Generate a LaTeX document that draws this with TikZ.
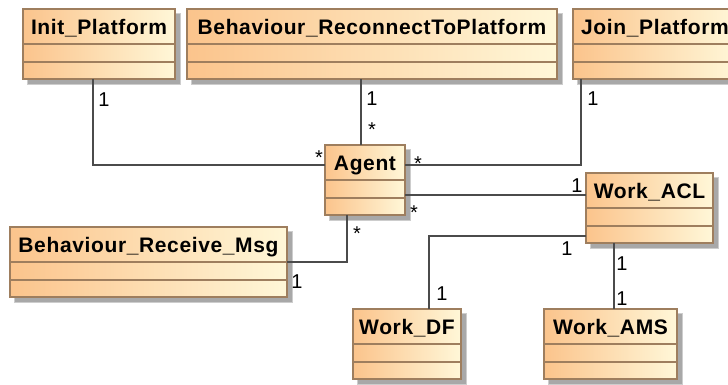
\documentclass[tikz,border=0pt]{standalone}
\usepackage{fontspec}
\setmainfont{Liberation Sans}
\newfontfamily\titlefont{Liberation Sans}[LetterSpace=3]
\usetikzlibrary{calc}
\definecolor{clsL}{RGB}{251,196,140}
\definecolor{clsR}{RGB}{255,247,216}
\definecolor{clsB}{RGB}{158,126,94}
\definecolor{shd}{RGB}{168,168,168}
\definecolor{shdl}{RGB}{205,205,205}
\definecolor{lnc}{RGB}{75,75,75}
\tikzset{
  cls/.style={draw=clsB, line width=1.1pt, left color=clsL, right color=clsR,
    inner sep=0pt, outer sep=0pt, minimum height=52.5pt},
  sepline/.style={draw=clsB, line width=1.1pt},
  titletext/.style={font=\titlefont\bfseries\fontsize{15.75pt}{17pt}\selectfont, inner sep=0pt},
  conn/.style={draw=lnc, line width=1.1pt},
  lbl/.style={font=\fontsize{15pt}{16pt}\selectfont, inner sep=0pt, text=black},
}
\newcommand\umlclass[5]{%
  \fill[shdl] (#2+4,#3+4) rectangle ++(#4+2,72);
  \fill[shd] (#2+5,#3+5) rectangle ++(#4,70);
  \node[cls, minimum width=#4*0.75pt, anchor=north west] (#1) at (#2,#3) {};
  \draw[sepline] ($(#1.north west)+(0,35)$) -- ($(#1.north east)+(0,35)$);
  \draw[sepline] ($(#1.north west)+(0,53)$) -- ($(#1.north east)+(0,53)$);
  \node[titletext, anchor=base] (#1-t) at ($(#1.north)+(0,25.5)$) {#5};
}
\begin{document}
\begin{tikzpicture}[x=0.75pt,y=-0.75pt]
\useasboundingbox (0,0) rectangle (728,385);
\fill[white] (0,0) rectangle (728,385);
\clip (0,0) rectangle (728,385);

\umlclass{init}{23}{9}{152}{Init\_Platform}
\umlclass{recon}{187}{9}{370}{Behaviour\_ReconnectToPlatform}
\umlclass{join}{573}{9}{164}{Join\_Platform}
\umlclass{agent}{325}{145}{80}{Agent}
\umlclass{msg}{10}{227}{277}{Behaviour\_Receive\_Msg}
\umlclass{acl}{586}{173}{127}{Work\_ACL}
\umlclass{df}{353}{309}{108}{Work\_DF}
\umlclass{ams}{544}{309}{133}{Work\_AMS}

% connectors
\coordinate (c1) at ($(agent.north west)+(0,20)$);
\draw[conn] ($(init.south west)+(70,0)$) |- (c1);
\coordinate (c2) at ($(agent.north west)+(36,0)$);
\draw[conn] (recon.south -| c2) -- (c2);
\coordinate (c3) at ($(agent.north east)+(0,20)$);
\draw[conn] ($(join.south west)+(8,0)$) |- (c3);
\coordinate (c4) at ($(agent.north east)+(0,50)$);
\draw[conn] (c4) -- (acl.west |- c4);
\coordinate (c5) at ($(msg.north east)+(0,35)$);
\draw[conn] ($(agent.south west)+(22,0)$) |- (c5);
\coordinate (c6) at ($(acl.south west)+(0,-7)$);
\draw[conn] (c6) -| ($(df.north west)+(76,0)$);
\coordinate (c7) at ($(acl.south west)+(28,0)$);
\draw[conn] (c7) -- (ams.north -| c7);

% multiplicities
\node[lbl] (m1) at (104,100) {1};
\node[lbl] (m2) at (319,158) {*};
\node[lbl] (m3) at (372,99) {1};
\node[lbl] (m4) at (372,130) {*};
\node[lbl] (m5) at (593,99) {1};
\node[lbl] (m6) at (418,164) {*};
\node[lbl] (m7) at (414,213) {*};
\node[lbl] (m8) at (577,186) {1};
\node[lbl] (m9) at (357,234) {*};
\node[lbl] (m10) at (297,282) {1};
\node[lbl] (m11) at (567,249) {1};
\node[lbl] (m12) at (442,294) {1};
\node[lbl] (m13) at (622,264) {1};
\node[lbl] (m14) at (622,299) {1};
\end{tikzpicture}
\end{document}
